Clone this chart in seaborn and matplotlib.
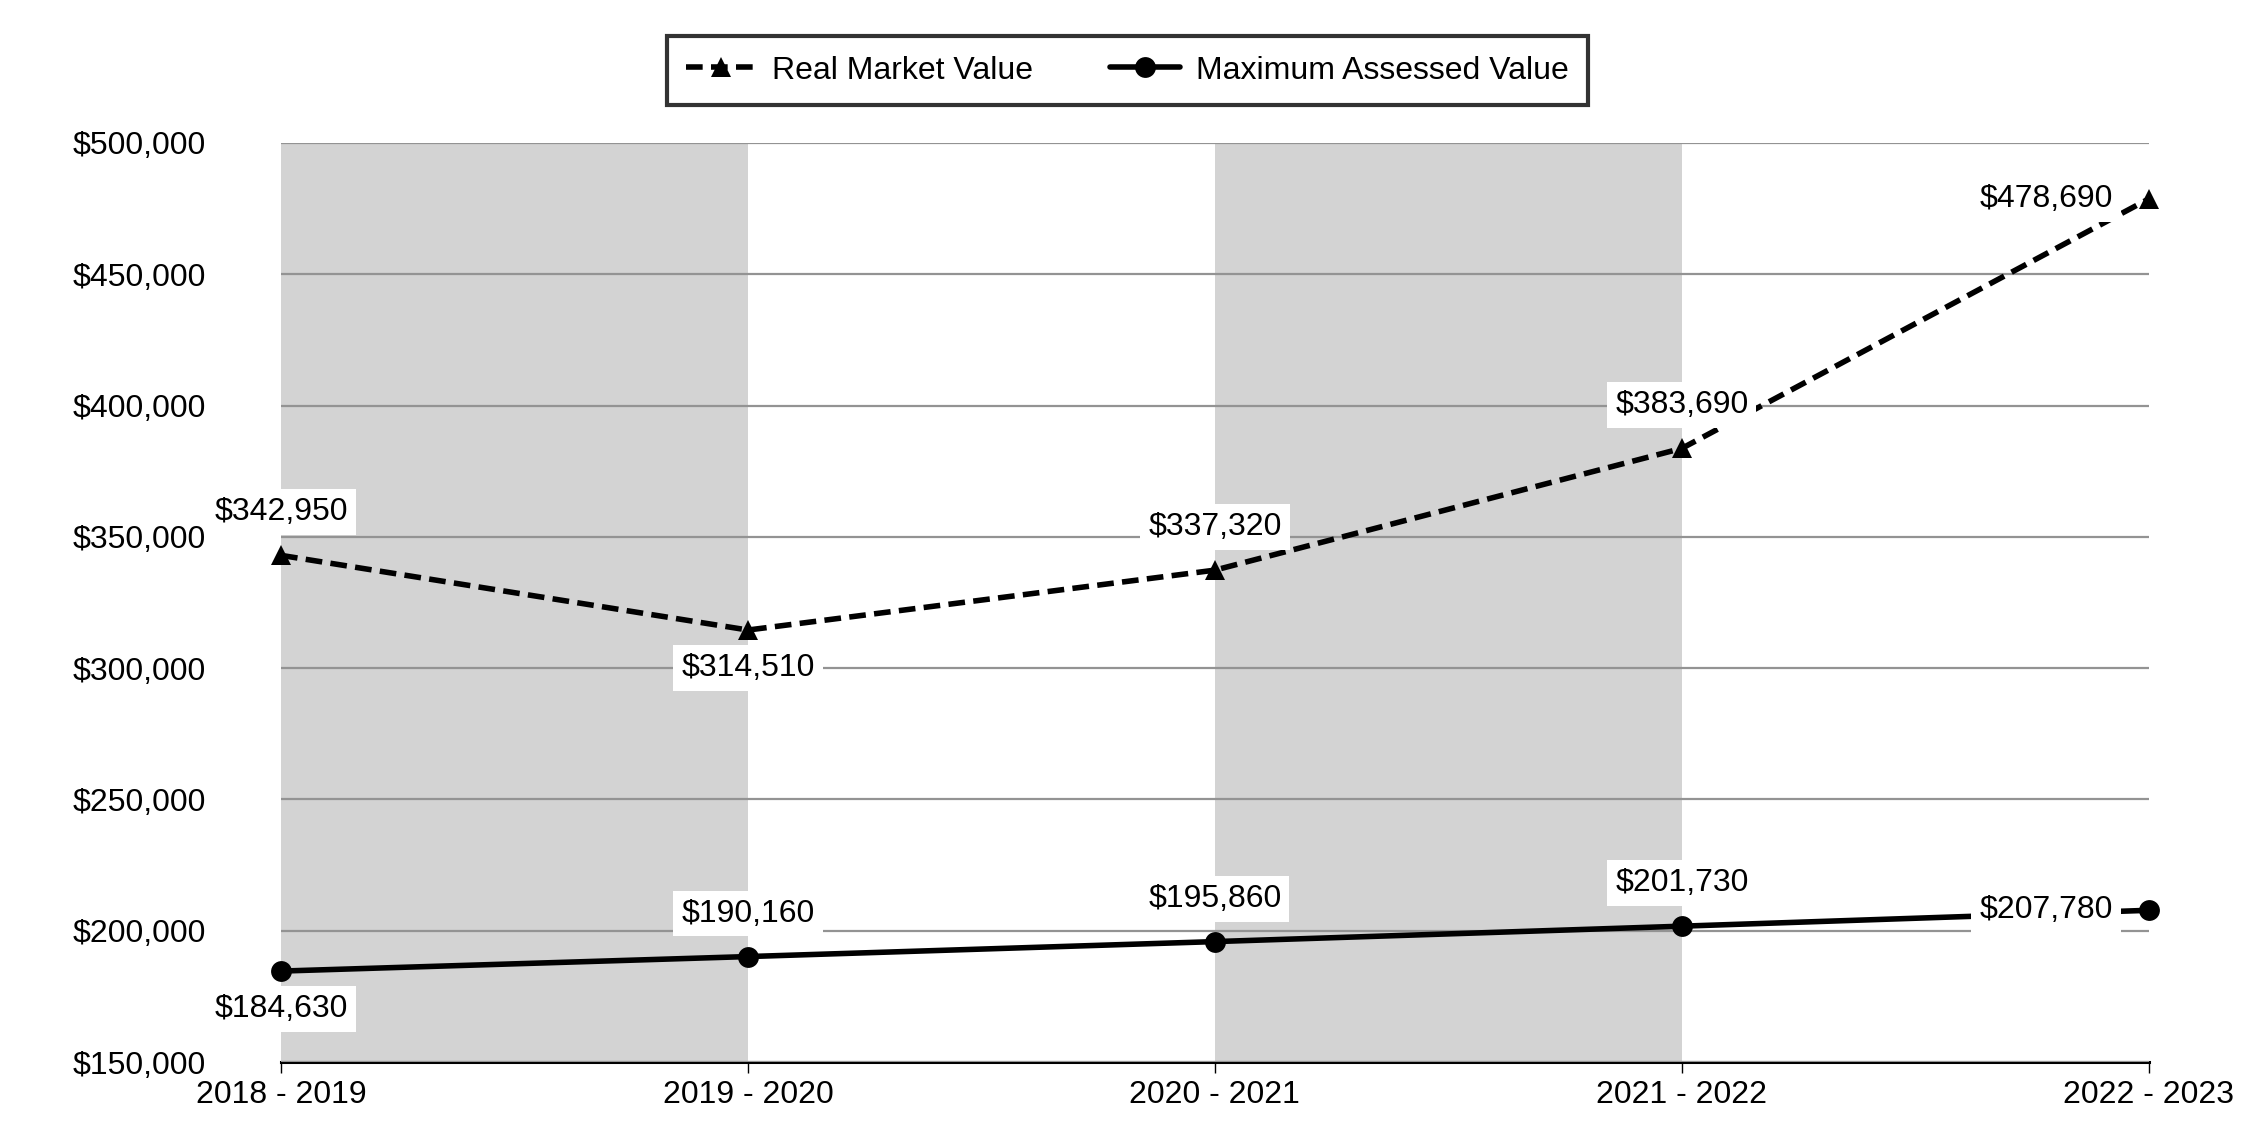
import numpy as np
import pandas as pd
import matplotlib
matplotlib.use('Agg')
import matplotlib.pyplot as plt
import seaborn as sns
from matplotlib.ticker import FuncFormatter, MultipleLocator

# Dados do gráfico
anos = ['2018 - 2019', '2019 - 2020', '2020 - 2021', '2021 - 2022', '2022 - 2023']
real_market = [342950, 314510, 337320, 383690, 478690]
max_assessed = [184630, 190160, 195860, 201730, 207780]

# posição dos rótulos: 'up', 'down', 'left'
pos_rmv = ['up', 'down', 'up', 'up', 'left']
pos_mav = ['down', 'up', 'up', 'up', 'left']

df = pd.DataFrame({'pos': np.arange(len(anos)),
                   'ano': anos,
                   'rmv': real_market,
                   'mav': max_assessed})

sns.set_theme(style='white')
plt.rcParams['font.family'] = ['Liberation Sans', 'DejaVu Sans']
plt.rcParams['text.color'] = 'black'
plt.rcParams['xtick.color'] = 'black'
plt.rcParams['ytick.color'] = 'black'
plt.rcParams['xtick.labelcolor'] = 'black'
plt.rcParams['ytick.labelcolor'] = 'black'

FS = 23

fig = plt.figure(figsize=(22.5, 11.4), dpi=100)
ax = fig.add_axes([0.1249, 0.0684, 0.955 - 0.1249, 0.8746 - 0.0684])

# faixas cinzas
for i in range(0, len(anos) - 1, 2):
    ax.axvspan(i, i + 1, color='#d3d3d3', zorder=0, lw=0)

# linhas de grade
ax.yaxis.set_major_locator(MultipleLocator(50000))
ax.grid(axis='y', color='#939393', linewidth=1.6, zorder=1)
ax.set_axisbelow(False)

sns.lineplot(data=df, x='pos', y='rmv', ax=ax, color='black', linewidth=4,
             marker='^', markersize=15, markeredgewidth=0,
             label='Real Market Value', zorder=3, clip_on=False)
ax.lines[-1].set_linestyle((0, (3, 1.5)))
sns.lineplot(data=df, x='pos', y='mav', ax=ax, color='black', linewidth=4,
             marker='o', markersize=15, markeredgewidth=0,
             label='Maximum Assessed Value', zorder=3, clip_on=False)

offsets = {'up': ((0, 31), 'center'), 'down': ((0, -27), 'center'), 'left': ((-26, 0), 'right')}

def rotulos(valores, posicoes):
    for i, (v, p) in enumerate(zip(valores, posicoes)):
        off, ha = offsets[p]
        ax.annotate(f'${v:,.0f}', xy=(i, v), xytext=off, textcoords='offset points',
                    ha=ha, va='center', fontsize=FS, color='black', zorder=4,
                    bbox=dict(boxstyle='square,pad=0.25', facecolor='white', edgecolor='none'))

rotulos(real_market, pos_rmv)
rotulos(max_assessed, pos_mav)

ax.set_xlim(0, len(anos) - 1)
ax.set_ylim(150000, 500000)
ax.set_xticks(df['pos'])
ax.set_xticklabels(anos)
ax.yaxis.set_major_formatter(FuncFormatter(lambda v, _: f'${v:,.0f}'))
ax.set_xlabel('')
ax.set_ylabel('')

for s in ['top', 'right', 'left']:
    ax.spines[s].set_visible(False)
ax.spines['bottom'].set_color('black')
ax.spines['bottom'].set_linewidth(2.2)

ax.tick_params(axis='x', direction='out', length=8, width=1, color='black',
               labelsize=FS, pad=5, bottom=True)
ax.tick_params(axis='y', length=0, labelsize=FS, pad=54, left=False)

leg = ax.legend(loc='upper center', bbox_to_anchor=(0.501, 0.968),
                bbox_transform=fig.transFigure, ncol=2, fontsize=FS,
                frameon=True, fancybox=False, handlelength=2.2,
                columnspacing=2.4, borderpad=0.6, handletextpad=0.5,
                borderaxespad=0)
leg.get_frame().set_edgecolor('black')
leg.get_frame().set_linewidth(3)

fig.savefig('out.png', dpi=100, facecolor='white')
